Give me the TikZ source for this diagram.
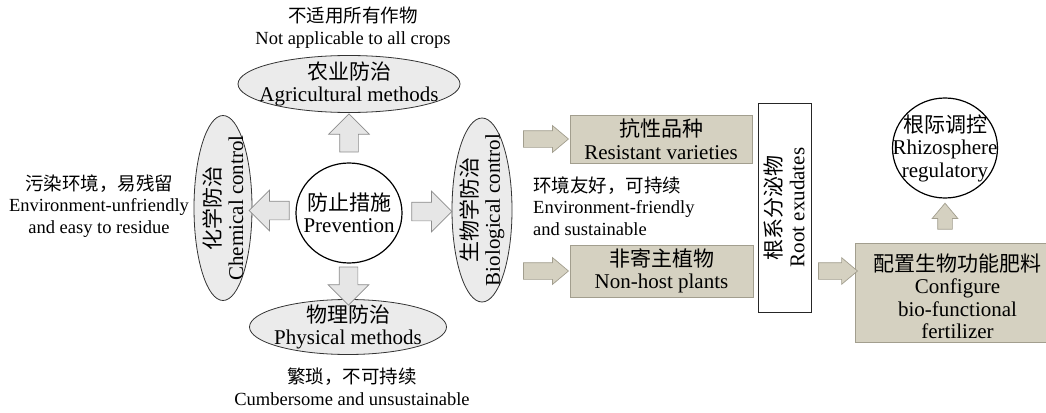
\documentclass[tikz,border=0pt]{standalone}
\usepackage{fontspec}
\setmainfont{Liberation Serif}
\newfontfamily\cjk{Noto Sans CJK SC}
\usetikzlibrary{shapes.geometric,shapes.arrows}
\definecolor{ellfill}{HTML}{EBEBEB}
\definecolor{tanfill}{HTML}{D5D1C1}
\definecolor{tanedge}{HTML}{A29E8E}
\definecolor{grayarrow}{HTML}{E6E6E6}
\definecolor{grayedge}{HTML}{8C8C8C}
\begin{document}
\begin{tikzpicture}[x=1pt,y=-1pt,
  big/.style={font=\fontsize{21}{22.5}\selectfont, align=center, inner sep=0pt},
  note/.style={font=\fontsize{18.5}{21.5}\selectfont, align=center, inner sep=0pt},
  grayell/.style={ellipse, draw=black!80, line width=0.8pt, fill=ellfill, inner sep=0pt},
  whiteell/.style={ellipse, draw=black, line width=1.2pt, fill=white, inner sep=0pt},
  tanbox/.style={rectangle, draw=tanedge, line width=0.8pt, fill=tanfill, inner sep=0pt, font=\fontsize{21}{22.5}\selectfont, align=center},
  rootbox/.style={rectangle, draw=black!85, line width=0.9pt, fill=white, inner sep=0pt},
  grayarr/.style={single arrow, draw=grayedge, fill=grayarrow, line width=0.7pt,
    minimum height=40pt, inner sep=9pt, single arrow head extend=11pt},
  tanarr/.style={single arrow, draw=tanedge, fill=tanfill, line width=0.7pt,
    inner sep=8pt, single arrow head extend=5pt, single arrow tip angle=80},
]
\useasboundingbox (0,0) rectangle (1046,412);

% left cluster
\node[grayell, minimum width=222pt, minimum height=57pt,
  label={[big]center:{{\cjk 农业防治}\\Agricultural methods}}] (agri) at (349,84) {};
\node[grayell, minimum width=197pt, minimum height=55pt,
  label={[big]center:{{\cjk 物理防治}\\Physical methods}}] (phys) at (348,327) {};
\node[grayell, minimum width=58pt, minimum height=185pt,
  label={[big,rotate=90]center:{{\cjk 化学防治}\\Chemical control}}] (chem) at (223,208) {};
\node[grayell, minimum width=60pt, minimum height=184pt,
  label={[big,rotate=90]center:{{\cjk 生物学防治}\\Biological control}}] (bio) at (482,210) {};
\node[whiteell, minimum width=106pt, minimum height=100pt,
  label={[big]center:{{\cjk 防止措施}\\Prevention}}] (prev) at (349,213) {};

\path (prev.north) -- (agri.south) node[midway, grayarr, shape border rotate=90, minimum height=38pt] (aup) {};
\path (prev.south) -- (phys.north) node[midway, grayarr, shape border rotate=270, minimum height=38pt] (adown) {};
\path (prev.west) -- (chem.east) node[midway, grayarr, shape border rotate=180] (aleft) {};
\path (prev.east) -- (bio.west) node[midway, grayarr] (aright) {};

% notes
\node[note] (ntop) at (353,27.5) {{\cjk 不适用所有作物}\\Not applicable to all crops};
\node[note] (nbot) at (352,387) {{\cjk 繁琐，不可持续}\\Cumbersome and unsustainable};
\node[note] (nleft) at (99,206) {{\cjk 污染环境，易残留}\\Environment-unfriendly\\and easy to residue};
\node[note, align=left, anchor=west] (nmid) at (533,206) {{\cjk 环境友好，可持续}\\Environment-friendly\\and sustainable};

% right cluster
\node[tanbox, minimum width=182pt, minimum height=48pt] (res) at (661,139) {{\cjk 抗性品种}\\Resistant varieties};
\node[tanbox, minimum width=183pt, minimum height=52pt] (nonhost) at (661.5,271) {{\cjk 非寄主植物}\\Non-host plants};
\node[rootbox, minimum width=53pt, minimum height=209pt,
  label={[big,rotate=90]center:{{\cjk 根系分泌物}\\Root exudates}}] (root) at (784.5,207.5) {};
\node[tanbox, minimum width=205pt, minimum height=99pt,
  label={[big,yshift=-4pt]center:{{\cjk 配置生物功能肥料}\\Configure\\bio-functional\\fertilizer}}] (fert) at (957.5,292.5) {};
\node[whiteell, minimum width=105pt, minimum height=100pt,
  label={[big]center:{{\cjk 根际调控}\\Rhizosphere\\regulatory}}] (rhizo) at (945,148) {};

\path (bio.east |- res.west) -- (res.west) node[midway, tanarr, minimum height=45pt] (ar1) {};
\path (bio.east |- nonhost.west) -- (nonhost.west) node[midway, tanarr, minimum height=45pt] (ar2) {};
\path (root.east |- nonhost.east) -- (nonhost.east -| fert.west) node[midway, tanarr, minimum height=39pt] (ar3) {};
\path (rhizo.south) -- (rhizo.south |- fert.north) node[midway, tanarr, shape border rotate=90, minimum height=26pt, inner sep=7pt, single arrow head extend=5.5pt] (ar4) {};
\end{tikzpicture}
\end{document}
